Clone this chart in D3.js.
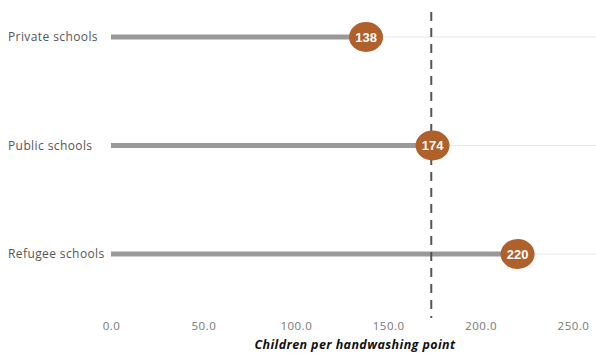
<!DOCTYPE html>
<html><head><meta charset="utf-8">
<script src="https://cdn.jsdelivr.net/npm/d3@7"></script>
<style>body{margin:0;background:#fff}svg{display:block;font-family:"Open Sans",sans-serif}</style>
</head><body><svg id="c" width="596" height="353"></svg>
<script>
const categories = ["Private schools", "Public schools", "Refugee schools"];
const values = [138, 174, 220];
const refValue = 173.3;
const ticks = [0, 50, 100, 150, 200, 250];
const axisTitle = "Children per handwashing point";

const svg = d3.select("#c");
const x = d3.scaleLinear().domain([0, 250]).range([111, 573]);
const y = d3.scalePoint().domain(categories).range([37, 254]);

// gridlines
svg.append("g").selectAll("line").data(categories).join("line")
  .attr("x1", x(0)).attr("x2", 596).attr("y1", d => y(d)).attr("y2", d => y(d))
  .attr("stroke", "#e6e6e6").attr("stroke-width", 1);

// category labels
svg.append("g").selectAll("text").data(categories).join("text")
  .attr("x", 8).attr("y", d => y(d)).attr("dy", "0.35em")
  .attr("font-size", 12).attr("letter-spacing", 0.4).attr("fill", "#555").text(d => d);

// bars
svg.append("g").selectAll("line").data(values).join("line")
  .attr("x1", x(0)).attr("x2", d => x(d))
  .attr("y1", (d, i) => y(categories[i])).attr("y2", (d, i) => y(categories[i]))
  .attr("stroke", "#999").attr("stroke-width", 5);

// reference line
svg.append("line").attr("x1", x(refValue)).attr("x2", x(refValue))
  .attr("y1", 12).attr("y2", 318).attr("stroke", "#555").attr("stroke-width", 2)
  .attr("stroke-dasharray", "9,7");

// dots
const g = svg.append("g").selectAll("g").data(values).join("g")
  .attr("transform", (d, i) => `translate(${x(d)},${y(categories[i])})`);
g.append("ellipse").attr("rx", 17).attr("ry", 15).attr("fill", "#B0602A");
g.append("text").attr("text-anchor", "middle").attr("dy", "0.36em")
  .attr("font-family", "Liberation Sans, Arial, sans-serif")
  .attr("font-size", 13).attr("font-weight", "bold").attr("fill", "#fff").text(d => d);

// axis
const ax = svg.append("g").attr("transform", "translate(0,316)")
  .call(d3.axisBottom(x).tickValues(ticks).tickFormat(d3.format(".1f")).tickSize(0).tickPadding(6));
ax.select(".domain").remove();
ax.selectAll("text").attr("font-size", 11.5).attr("letter-spacing", 0.5).attr("fill", "#777").attr("font-family", "Open Sans, sans-serif");

svg.append("text").attr("x", 355).attr("y", 349)
  .attr("text-anchor", "middle").attr("font-size", 12.5).attr("letter-spacing", 0.4).attr("font-weight", "bold")
  .attr("font-style", "italic").attr("fill", "#111").text(axisTitle);
</script></body></html>
